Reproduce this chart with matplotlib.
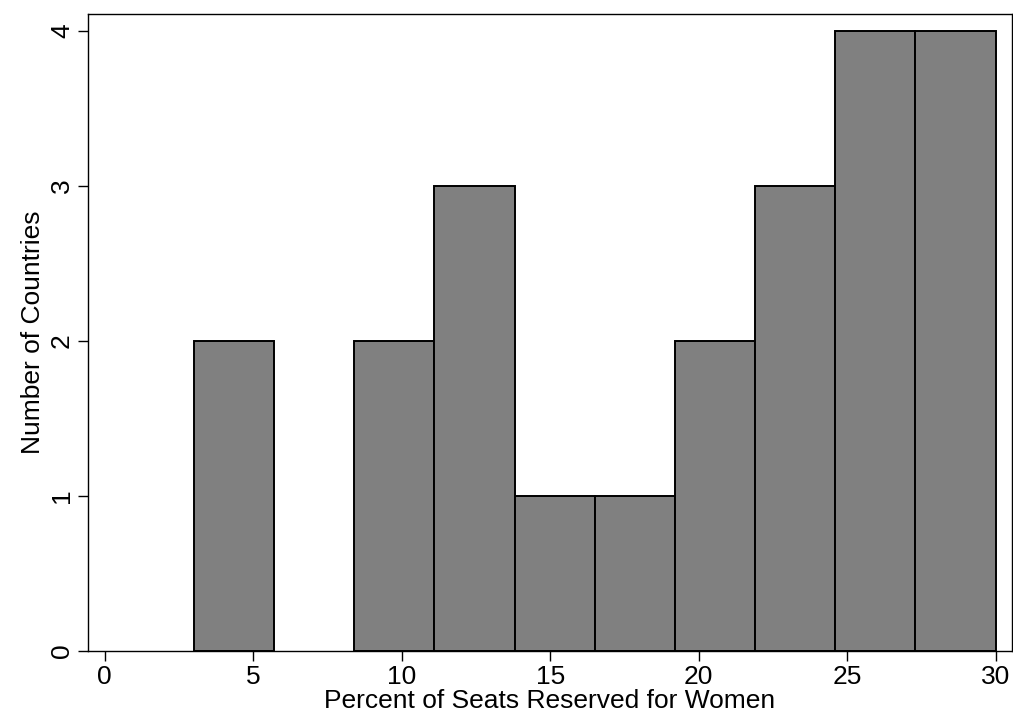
import numpy as np
import matplotlib.pyplot as plt

plt.rcParams['font.family'] = ['Liberation Sans', 'DejaVu Sans']

# histogram data
bin_edges = [3.0, 5.7, 8.4, 11.1, 13.8, 16.5, 19.2, 21.9, 24.6, 27.3, 30.0]
counts = [2, 0, 2, 3, 1, 1, 2, 3, 4, 4]
x_ticks = [0, 5, 10, 15, 20, 25, 30]
y_ticks = [0, 1, 2, 3, 4]

fig = plt.figure(figsize=(10.13, 7.17), dpi=100)
ax = fig.add_axes([88 / 1013, 1 - 651 / 717, (1012 - 88) / 1013, (651 - 14) / 717])

edges = np.array(bin_edges)
cnt = np.array(counts)
keep = cnt > 0  # empty bins drawn as nothing
ax.bar(edges[:-1][keep], cnt[keep], width=np.diff(edges)[keep], align='edge',
       color='#808080', edgecolor='black', linewidth=1.4)

ax.set_xlim(-0.56, 30.55)
ax.set_ylim(0, 4.11)
ax.set_xticks(x_ticks)
ax.set_yticks(y_ticks)
ax.tick_params(direction='out', length=7, width=1, labelsize=19, pad=3)
for lab in ax.get_yticklabels():
    lab.set_rotation(90)
    lab.set_va('center')
for s in ax.spines.values():
    s.set_linewidth(1)

ax.set_xlabel('Percent of Seats Reserved for Women', fontsize=19, labelpad=0)
ax.set_ylabel('Number of Countries', fontsize=19, labelpad=4)

fig.savefig('out.png', dpi=100)
